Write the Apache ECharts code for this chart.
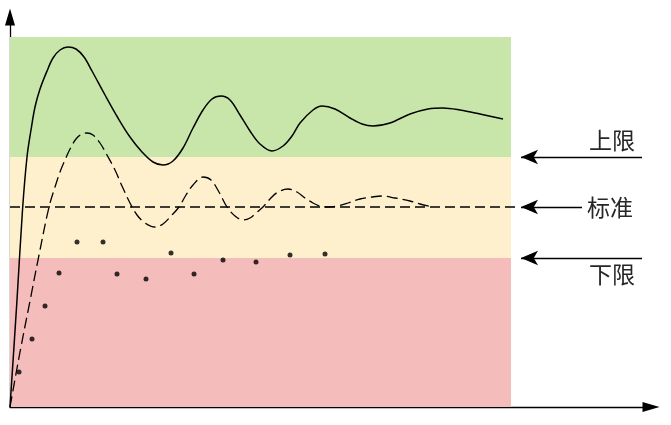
<!DOCTYPE html>
<html>
<head>
<meta charset="utf-8">
<script src="https://cdn.jsdelivr.net/npm/echarts@6/dist/echarts.min.js"></script>
<style>html,body{margin:0;padding:0;background:#fff}#c{width:671px;height:425px}</style>
</head>
<body>
<div id="c"></div>
<script>
// Data (value units: x to the right of origin, y above origin)
var solidCurve = [[0,0],[7,107],[12.5,197],[17,250],[21,277],[25,300],[30,318],[37,336],[43,349],[50,357],[58,360],[66,358],[74,350],[82,336],[95,312],[108,289],[120,270],[132,255],[143,245],[153,242],[163,246],[173,259],[183,279],[193,297],[202,308],[211,311],[220,307],[230,292],[240,276],[250,263],[262,256],[273,261],[282,271],[290,284],[303,297],[312,301],[325,298],[340,289],[352,283],[363,281],[380,284],[400,293],[418,298],[433,299],[450,297],[470,293],[493,288]];
var dashedCurve = [[0,0],[10,55],[20,106],[29,152],[39,200],[45,220],[50,235],[55,247],[60,258],[66,268],[72,273],[77,274],[83,272],[90,264],[97,252],[105,237],[112,221],[120,204],[127,192],[135,184],[145,180],[153,183],[161,191],[169,200],[176,212],[183,222],[193,230],[201,227],[209,215],[217,200],[225,191],[233,187],[240,189],[246,194],[253,200],[260,208],[268,215],[278,218],[287,215],[295,209],[303,204],[310,201],[318,200],[327,201],[338,204],[350,208],[362,210],[372,211],[385,209],[400,206],[410,203],[422,200]];
var dotPoints = [[9,35],[22,68],[35,101],[49,134],[67,165],[93,165],[107,133],[136,128],[161,154],[184,133],[213,147],[246,145],[280,152],[315,153]];
var standardLine = [[0,200],[508,200]];
var bandEdges = {xEnd: 501, top: 370, upper: 250, lower: 149, bottom: 0};
var labels = ['上限', '标准', '下限'];
var labelLevels = [250, 200, 149];
var arrowStartX = 511;
var arrowEndX = [632, 572, 632];

var tri = 'path://M5 0L10 17L0 17Z';
var chart = echarts.init(document.getElementById('c'), null, {renderer: 'canvas'});
var labelPos = ['insideEndTop', 'end', 'insideEndBottom'];
var labelDist = [[7, 5], 5, [7, 5]];
var mlData = labels.map(function (t, i) {
  return [
    {coord: [arrowStartX, labelLevels[i]], symbol: 'arrow', symbolSize: [11, 17]},
    {coord: [arrowEndX[i], labelLevels[i]], symbol: 'none',
     label: {show: true, formatter: t, position: labelPos[i], distance: labelDist[i]}}
  ];
});

var option = {
  animation: false,
  grid: {left: 10, right: 20, top: 17, bottom: 18},
  xAxis: {
    type: 'value', min: 0, max: 641,
    axisLine: {show: true, onZero: false, symbol: ['none', tri], symbolSize: [10, 17], lineStyle: {color: '#000', width: 1.3}},
    axisTick: {show: false}, axisLabel: {show: false}, splitLine: {show: false}
  },
  yAxis: {
    type: 'value', min: 0, max: 390,
    axisLine: {show: true, onZero: false, symbol: ['none', tri], symbolSize: [10, 17], lineStyle: {color: '#000', width: 1.3}},
    axisTick: {show: false}, axisLabel: {show: false}, splitLine: {show: false}
  },
  series: [
    {
      type: 'line', data: [], z: 0, silent: true,
      markArea: {
        silent: true,
        data: [
          [{coord: [0, bandEdges.top], itemStyle: {color: '#c9e6aa'}}, {coord: [bandEdges.xEnd, bandEdges.upper]}],
          [{coord: [0, bandEdges.upper], itemStyle: {color: '#fff0cd'}}, {coord: [bandEdges.xEnd, bandEdges.lower]}],
          [{coord: [0, bandEdges.lower], itemStyle: {color: '#f4bdbc'}}, {coord: [bandEdges.xEnd, bandEdges.bottom]}]
        ]
      },
      markLine: {
        silent: true,
        symbol: ['arrow', 'none'],
        symbolSize: 15,
        lineStyle: {color: '#000', width: 1.3, type: 'solid'},
        label: {color: '#262626', fontSize: 23, fontFamily: 'Noto Sans CJK SC'},
        data: mlData
      }
    },
    {
      type: 'line', data: solidCurve, smooth: 0.35, showSymbol: false, z: 3,
      lineStyle: {color: '#000', width: 1.5}
    },
    {
      type: 'line', data: dashedCurve, smooth: 0.35, showSymbol: false, z: 3,
      lineStyle: {color: '#000', width: 1.3, type: [11, 5]}
    },
    {
      type: 'line', data: standardLine, showSymbol: false, z: 3,
      lineStyle: {color: '#000', width: 1.3, type: [10, 5]}
    },
    {
      type: 'scatter', data: dotPoints, symbol: 'circle', symbolSize: 5, z: 4,
      itemStyle: {color: '#000'}
    }
  ]
};
chart.setOption(option);
</script>
</body>
</html>
